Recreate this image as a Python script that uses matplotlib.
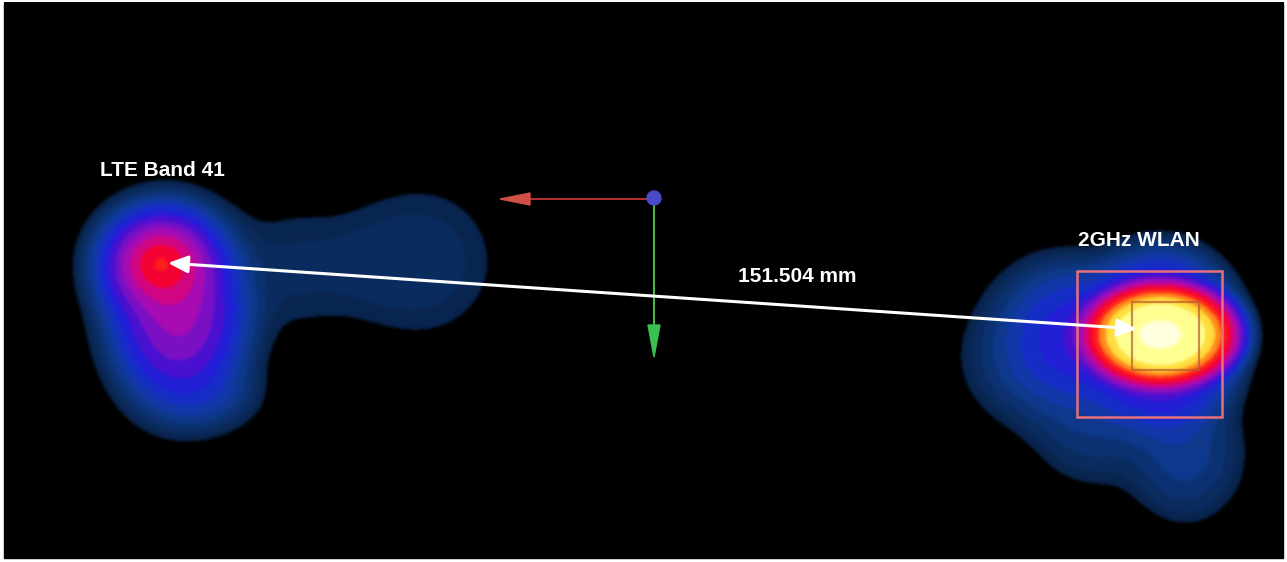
import numpy as np
import matplotlib
matplotlib.use("Agg")
import matplotlib.pyplot as plt
from matplotlib.patches import Rectangle, Circle, Polygon
from matplotlib.colors import LinearSegmentedColormap

# canvas (pixel units of the reference picture)
W, H = 1287, 562
frame = (4, 3, 1283, 558)  # black plot area: x0, y0, x1, y1

# hot-spot sources: x, y, peak level (0..1 of the colour scale), sigma_x, sigma_y, shape exponent
src_x = [160, 178, 205, 300, 420, 1160, 1160, 1080, 1035, 1060, 1185, 1090]
src_y = [264, 318, 395, 268, 262, 335, 340, 340, 360, 300, 455, 430]
src_level = [0.745, 0.57, 0.20, 0.08, 0.09, 1.0, 0.50, 0.40, 0.20, 0.15, 0.22, 0.15]
src_sx = [31, 46, 45, 70, 78, 56, 64, 55, 60, 50, 48, 50]
src_sy = [29, 60, 30, 65, 78, 38, 72, 50, 55, 40, 55, 50]
src_p = [1.6, 2, 2, 2, 3, 3.4, 3, 2, 2, 2, 2, 2]
dyn_range = 3.0  # decades shown by the colour scale
n_steps = 16     # visible banding of the field plot

# colour scale
cmap_pos = [0.0, 0.10, 0.20, 0.28, 0.36, 0.44, 0.52, 0.60, 0.68, 0.74, 0.78, 0.83, 0.88, 0.94, 1.0]
cmap_col = ['#09254f', '#0b2f68', '#0e3a90', '#1436b8', '#1822d8', '#4a10d0', '#8a10c0',
            '#c008a8', '#f20038', '#ff0a20', '#ff5010', '#ffa020', '#ffe040', '#ffff90', '#ffffe0']

labels = ['LTE Band 41', '2GHz WLAN', '151.504 mm']
label_x = [100, 1078, 738]
label_y = [170, 241, 277]

# measurement arrow: right tip, left tip
arrow_start = (1137, 329)
arrow_end = (168, 263)

# coordinate triad
triad_origin = (654, 198)
triad_x_tip = 500
triad_y_tip = 357

# probe boxes: x, y, w, h
box_outer = (1077, 271, 145, 146)
box_inner = (1132, 302, 67, 68)


def blur(img, sigma):
    r = int(3 * sigma)
    k = np.exp(-0.5 * (np.arange(-r, r + 1) / sigma) ** 2)
    k /= k.sum()
    out = img.copy()
    for axis in (0, 1):
        pad = [(0, 0)] * img.ndim
        pad[axis] = (r, r)
        p = np.pad(out, pad, mode='edge')
        acc = np.zeros_like(out)
        n = out.shape[axis]
        for i, w in enumerate(k):
            acc += w * np.take(p, np.arange(i, i + n), axis=axis)
        out = acc
    return out


def main():
    fig = plt.figure(figsize=(W / 100, H / 100), dpi=100, facecolor='white')
    ax = fig.add_axes([0, 0, 1, 1])
    ax.set_xlim(0, W)
    ax.set_ylim(H, 0)
    ax.axis('off')

    x0, y0, x1, y1 = frame
    ax.add_patch(Rectangle((x0, y0), x1 - x0, y1 - y0, color='black', zorder=0))

    xs = np.arange(x0, x1 + 1)
    ys = np.arange(y0, y1 + 1)
    X, Y = np.meshgrid(xs, ys)
    F = np.zeros_like(X, dtype=float)
    for cx, cy, lv, sx, sy, pw in zip(src_x, src_y, src_level, src_sx, src_sy, src_p):
        d = np.sqrt(((X - cx) / sx) ** 2 + ((Y - cy) / sy) ** 2)
        F += 10 ** (dyn_range * (lv - 1)) * np.exp(-d ** pw)
    C = 1 + np.log10(F + 1e-30) / dyn_range

    cmap = LinearSegmentedColormap.from_list('sar', list(zip(cmap_pos, cmap_col)))
    Cq = np.floor(np.clip(C, 0, 1) * n_steps) / n_steps
    rgb = cmap(Cq)[..., :3]
    rgb[C < 0] = 0.0
    rgb = np.clip(blur(rgb, 1.6), 0, 1)

    ax.imshow(rgb, extent=(x0 - 0.5, x1 + 0.5, y1 + 0.5, y0 - 0.5),
              interpolation='bilinear', zorder=1)

    # probe boxes
    bx, by, bw, bh = box_outer
    ax.add_patch(Rectangle((bx, by), bw, bh, fill=False, ec='#e8707c', lw=1.8, zorder=3))
    bx, by, bw, bh = box_inner
    ax.add_patch(Rectangle((bx, by), bw, bh, fill=False, ec='#b85a30', lw=1.6, alpha=0.7, zorder=3))

    # triad
    ox, oy = triad_origin
    ax.plot([ox, triad_x_tip + 28], [oy + 1, oy + 1], color='#b83030', lw=1.4, zorder=4)
    ax.add_patch(Polygon([(triad_x_tip + 30, oy - 5), (triad_x_tip + 30, oy + 7), (triad_x_tip, oy + 1)],
                         closed=True, color='#d05048', zorder=5))
    ax.plot([ox, ox], [oy + 5, triad_y_tip - 30], color='#48c048', lw=1.4, zorder=4)
    ax.add_patch(Polygon([(ox - 6, triad_y_tip - 32), (ox + 6, triad_y_tip - 32), (ox, triad_y_tip)],
                         closed=True, color='#38c050', zorder=5))
    ax.add_patch(Circle(triad_origin, 7, color='#4a4ac8', zorder=6))

    # measurement arrow
    ax.annotate('', xy=arrow_end, xytext=arrow_start,
                arrowprops=dict(arrowstyle='<|-|>,head_length=0.5,head_width=0.22',
                                color='white', lw=2.2, mutation_scale=24,
                                shrinkA=0, shrinkB=0), zorder=7)

    for t, lx, ly in zip(labels, label_x, label_y):
        ax.text(lx, ly, t, color='white', fontsize=15, fontweight='bold',
                family='Liberation Sans', ha='left', va='center', zorder=8)

    fig.savefig('out.png', dpi=100, facecolor='white')


if __name__ == "__main__":
    main()
